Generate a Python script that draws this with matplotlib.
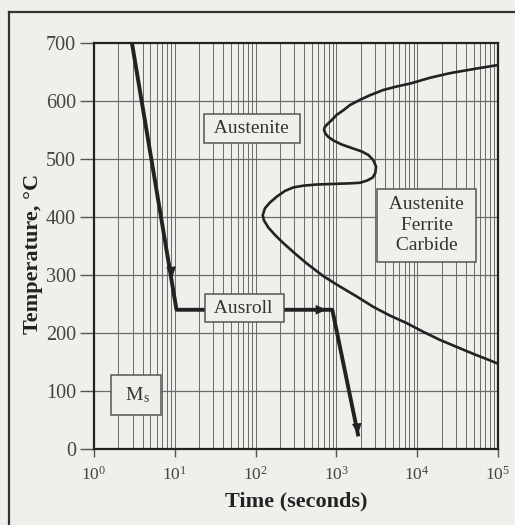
import numpy as np
import matplotlib
matplotlib.use('Agg')
import matplotlib.pyplot as plt
from matplotlib.lines import Line2D

# C-curve (log10 time, temperature)
curve_logt = [5.0, 4.736, 4.406, 4.158, 3.911, 3.746, 3.581, 3.416, 3.292, 3.168,
              3.086, 3.003, 2.942, 2.888, 2.855, 2.847, 2.863, 2.9, 2.962, 3.065,
              3.189, 3.313, 3.395, 3.457, 3.49, 3.482, 3.449, 3.383, 3.292, 3.168,
              2.962, 2.756, 2.591, 2.467, 2.364, 2.261, 2.178, 2.116, 2.088, 2.104,
              2.157, 2.24, 2.343, 2.488, 2.632, 2.838, 3.045, 3.251, 3.457, 3.663,
              3.87, 4.075, 4.282, 4.488, 4.694, 4.86, 5.0]
curve_temp = [662, 656, 648, 640, 630, 625, 619, 610, 602, 593,
              584, 576, 567, 560, 555, 550, 544, 538, 532, 525,
              519, 513, 507, 498, 487, 476, 468, 463, 459, 458,
              457, 456, 454, 451, 445, 435, 425, 415, 403, 394,
              382, 369, 355, 337, 320, 298, 280, 263, 245, 230,
              217, 202, 188, 176, 164, 155, 147]

# Processing path: quench, ausroll hold, final quench
path_time = [2.95, 10.5, 890, 1850]
path_temp = [700, 240, 240, 25]

labels = [' Austenite ', ' Ausroll ', r' M$_\mathregular{s}$ ', ' Austenite \n Ferrite \n Carbide ']
label_time = [90, 72, 3.3, 13000]
label_temp = [553, 243, 93, 386]
label_pad = [0.3, 0.3, 0.5, 0.4]

yticks = [0, 100, 200, 300, 400, 500, 600, 700]
xticks = [1, 10, 100, 1000, 10000, 100000]
xticklabels = [r'$\mathregular{10^{%d}}$' % i for i in range(6)]

bg = '#efefeb'
ink = '#222222'
grid = '#6a6a6a'

plt.rcParams['font.family'] = ['Liberation Serif', 'DejaVu Serif']
plt.rcParams['mathtext.fontset'] = 'custom'
plt.rcParams['mathtext.rm'] = 'Liberation Serif'
plt.rcParams['mathtext.it'] = 'Liberation Serif:italic'

fig = plt.figure(figsize=(5.15, 5.25), dpi=100, facecolor=bg)
ax = fig.add_axes([0.1825, 0.1448, 0.7845, 0.7733], facecolor=bg)

# outer frame (only left and top visible in the picture)
fig.add_artist(Line2D([9 / 515, 9 / 515], [0, 1 - 12 / 525], transform=fig.transFigure,
                      color='#333333', lw=1.6))
fig.add_artist(Line2D([9 / 515, 1], [1 - 12 / 525, 1 - 12 / 525], transform=fig.transFigure,
                      color='#333333', lw=1.6))

ax.set_xscale('log')
ax.set_xlim(1, 1e5)
ax.set_ylim(0, 700)

# grid: every minor log line and every 100 °C
for d in range(5):
    for m in range(1, 10):
        x = m * 10 ** d
        if x > 1:
            ax.axvline(x, color=grid, lw=0.7, zorder=1)
for t in yticks[1:-1]:
    ax.axhline(t, color=grid, lw=0.9, zorder=1)

# C-curve
ax.plot(10 ** np.array(curve_logt), curve_temp, color=ink, lw=1.9, zorder=3,
        solid_capstyle='round', solid_joinstyle='round')

# processing path
ax.plot(path_time, path_temp, color=ink, lw=2.8, zorder=4, solid_joinstyle='round')
ap = dict(arrowstyle='-|>,head_length=0.8,head_width=0.35', color=ink, lw=0, shrinkA=0, shrinkB=0)
# arrow heads along the path
ax.annotate('', xy=(9.3, 295), xytext=(8.0, 380), arrowprops=ap, zorder=5)
ax.annotate('', xy=(760, 240), xytext=(500, 240), arrowprops=ap, zorder=5)
ax.annotate('', xy=(1850, 25), xytext=(1620, 100), arrowprops=ap, zorder=5)

for lab, t, temp, pad in zip(labels, label_time, label_temp, label_pad):
    box = dict(boxstyle='square,pad=%g' % pad, facecolor=bg, edgecolor='#555555', lw=1.1)
    ax.text(t, temp, lab, ha='center', va='center', fontsize=14, color='#333333',
            bbox=box, zorder=6, linespacing=1.25)

for s in ax.spines.values():
    s.set_color(ink)
    s.set_linewidth(1.6)
    s.set_zorder(7)

ax.set_yticks(yticks)
ax.set_xticks(xticks)
ax.set_xticklabels(xticklabels)
ax.xaxis.set_minor_locator(matplotlib.ticker.NullLocator())
ax.tick_params(axis='y', length=10, width=1.0, color='#555555', labelsize=14.5,
               labelcolor='#444444', pad=3)
ax.tick_params(axis='x', length=6, width=1.0, color='#555555', labelsize=12.5,
               labelcolor='#444444', pad=6)

ax.set_ylabel('Temperature, °C', fontsize=16, fontweight='bold', color=ink)
ax.set_xlabel('Time (seconds)', fontsize=16, fontweight='bold', color=ink)
ax.yaxis.set_label_coords(-0.151, 0.48)
ax.xaxis.set_label_coords(0.5, -0.13)
ax.yaxis.label.set_va('center')
ax.xaxis.label.set_va('center')

fig.savefig('out.png', dpi=100, facecolor=bg)
